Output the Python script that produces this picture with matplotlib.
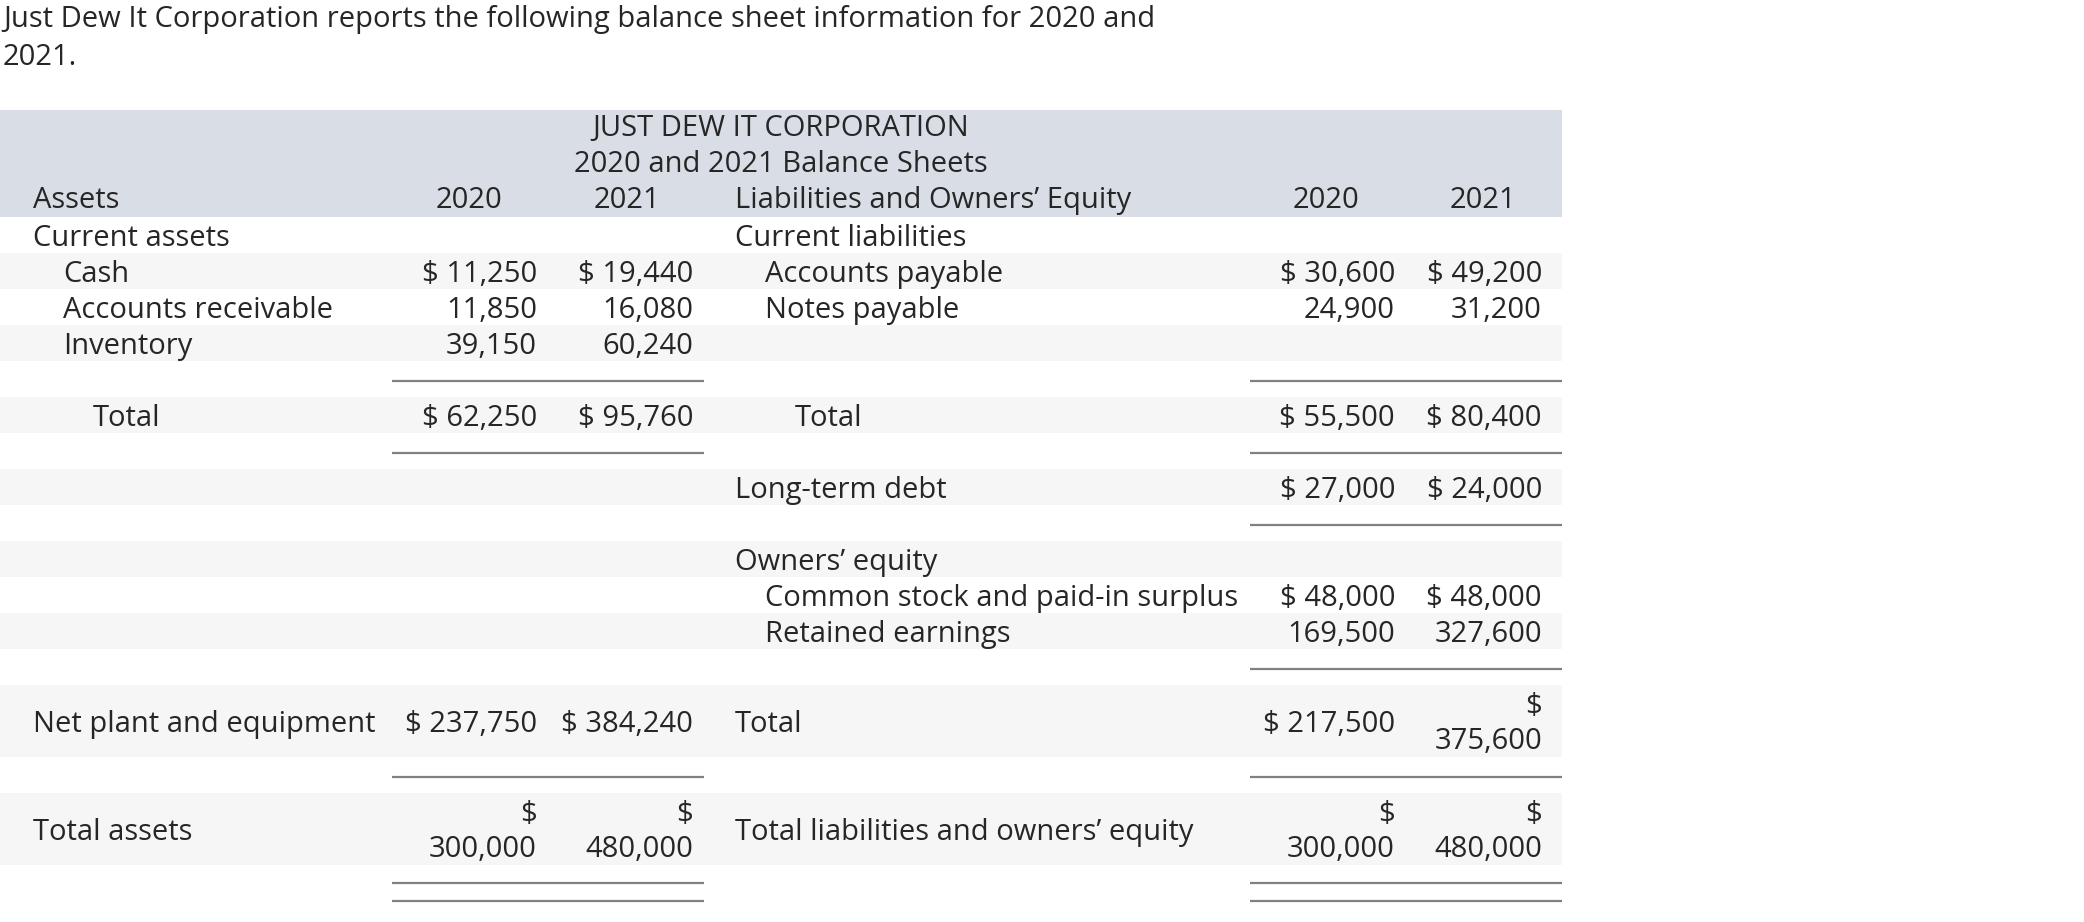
import matplotlib
matplotlib.use("Agg")
import matplotlib.pyplot as plt
from matplotlib.patches import Rectangle

plt.rcParams["font.family"] = ["Open Sans", "DejaVu Sans"]

# ---- data ----
intro = ["Just Dew It Corporation reports the following balance sheet information for 2020 and",
         "2021."]
company = "JUST DEW IT CORPORATION"
subtitle = "2020 and 2021 Balance Sheets"
years = ["2020", "2021"]

asset_labels = ["Current assets", "Cash", "Accounts receivable", "Inventory",
                "Total", "Net plant and equipment", "Total assets"]
assets_2020 = [None, 11250, 11850, 39150, 62250, 237750, 300000]
assets_2021 = [None, 19440, 16080, 60240, 95760, 384240, 480000]

liab_labels = ["Current liabilities", "Accounts payable", "Notes payable", "Total",
               "Long-term debt", "Owners\u2019 equity", "Common stock and paid-in surplus",
               "Retained earnings", "Total", "Total liabilities and owners\u2019 equity"]
liab_2020 = [None, 30600, 24900, 55500, 27000, None, 48000, 169500, 217500, 300000]
liab_2021 = [None, 49200, 31200, 80400, 24000, None, 48000, 327600, 375600, 480000]

# ---- layout (row index, indent level, show $, wrap $ onto its own line) ----
asset_rows = [0, 1, 2, 3, 5, 13.5, 16.5]
asset_indent = [0, 1, 1, 1, 2, 0, 0]
asset_dollar = [False, True, False, False, True, True, True]
asset_wrap = [(False, False)] * 6 + [(True, True)]

liab_rows = [0, 1, 2, 5, 7, 9, 10, 11, 13.5, 16.5]
liab_indent = [0, 1, 1, 2, 0, 0, 1, 1, 0, 0]
liab_dollar = [False, True, False, True, True, False, True, False, True, True]
liab_wrap = [(False, False)] * 8 + [(False, True), (True, True)]

gray_rows = [1, 3, 5, 7, 9, 11]
gray_double = [13, 16]
left_lines = [4.55, 6.55, 15.55, 18.5, 19.0]
right_lines = [4.55, 6.55, 8.55, 12.55, 15.55, 18.5, 19.0]

TXT = "#262626"
FS = 21
top = 217
h = 36
base = 10.5   # baseline offset below a line's centre
lsp = 35      # spacing of wrapped lines

fig = plt.figure(figsize=(20.84, 9.22), dpi=100)
ax = fig.add_axes([0, 0, 1, 1])
ax.set_xlim(0, 2084)
ax.set_ylim(922, 0)
ax.axis("off")


def put(x, y, s, ha="left"):
    ax.text(x, y, s, fontsize=FS, color=TXT, ha=ha, va="baseline")


# intro text
for i, line in enumerate(intro):
    put(3, 27 + i * 38, line)

# header band
ax.add_patch(Rectangle((0, 110), 1562, top - 110, color="#d9dde6", lw=0))
put(781, 136, company, "center")
put(781, 172, subtitle, "center")
put(33, 208, "Assets")
put(735, 208, "Liabilities and Owners\u2019 Equity")
for xc, yr in zip([469, 627, 1326, 1483], years * 2):
    put(xc, 208, yr, "center")

# striped rows
for r in gray_rows:
    ax.add_patch(Rectangle((0, top + r * h), 1562, h, color="#f6f6f6", lw=0))
for r in gray_double:
    ax.add_patch(Rectangle((0, top + r * h), 1562, 2 * h, color="#f6f6f6", lw=0))

# rules
for r in left_lines:
    ax.plot([392, 704], [top + r * h] * 2, color="#808080", lw=1.6, solid_capstyle="butt")
for r in right_lines:
    ax.plot([1250, 1562], [top + r * h] * 2, color="#808080", lw=1.6, solid_capstyle="butt")


def draw_side(labels, rows, indents, v20, v21, dollars, wraps, xl, x20, x21):
    for lab, r, ind, a, b, d, w in zip(labels, rows, indents, v20, v21, dollars, wraps):
        yc = top + (r + 0.5) * h
        put(xl + ind * 30, yc + base, lab)
        for v, x, wr in zip([a, b], [x20, x21], w):
            if v is None:
                continue
            num = f"{v:,}"
            if d and wr:
                put(x, yc - lsp / 2 + base, "$", "right")
                put(x, yc + lsp / 2 + base, num, "right")
            elif d:
                put(x, yc + base, "$ " + num, "right")
            else:
                put(x, yc + base, num, "right")


draw_side(asset_labels, asset_rows, asset_indent, assets_2020, assets_2021,
          asset_dollar, asset_wrap, 33, 537, 693)
draw_side(liab_labels, liab_rows, liab_indent, liab_2020, liab_2021,
          liab_dollar, liab_wrap, 735, 1395, 1542)

fig.savefig("out.png", dpi=100, facecolor="white")
